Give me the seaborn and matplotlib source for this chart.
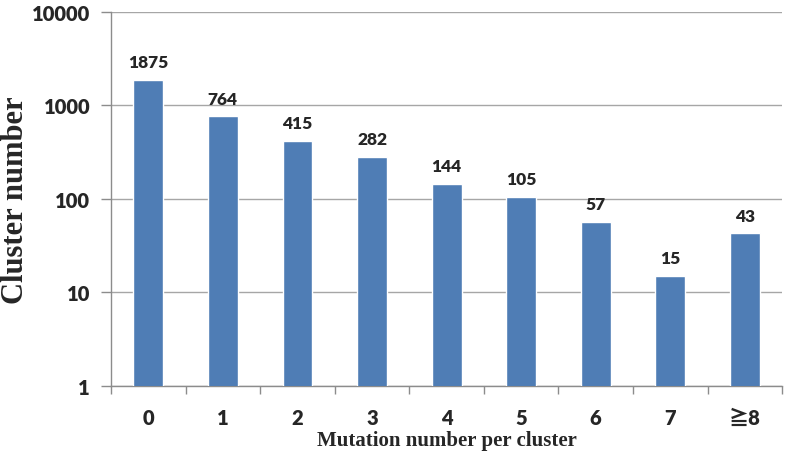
import matplotlib
matplotlib.use("Agg")
import matplotlib.pyplot as plt
import seaborn as sns
import pandas as pd
import numpy as np
from matplotlib.ticker import FixedLocator, NullFormatter

categories = ["0", "1", "2", "3", "4", "5", "6", "7", "≧8"]
counts = [1875, 764, 415, 282, 144, 105, 57, 15, 43]
ytick_vals = [1, 10, 100, 1000, 10000]
ytick_labels = ["1", "10", "100", "1000", "10000"]

sns.set_theme(style="white")
sans = ["Lato", "Noto Sans CJK JP", "DejaVu Sans"]
plt.rcParams["font.family"] = sans

df = pd.DataFrame({"cat": categories, "count": counts})

fig = plt.figure(figsize=(7.85, 4.64), dpi=100)
ax = fig.add_axes([0.1414, 0.166, 0.855, 0.806])

sns.barplot(data=df, x="cat", y="count", color="#4F7DB5", saturation=1,
            width=0.4, ax=ax, zorder=3)
ax.set_yscale("log")
ax.set_ylim(1, 10000)
ax.set_xlim(-0.5, len(categories) - 0.5)

ax.set_yticks(ytick_vals)
ax.set_yticklabels(ytick_labels, fontsize=14.5, fontweight="heavy", family=sans)
ax.yaxis.set_minor_locator(FixedLocator([]))
ax.yaxis.set_minor_formatter(NullFormatter())
ax.tick_params(axis="y", which="major", length=7, color="#8C8C8C", width=1,
               left=True, pad=8)
ax.grid(axis="y", color="#A6A6A6", linewidth=1, zorder=0)
ax.set_axisbelow(True)

ax.set_xticks(range(len(categories)))
ax.set_xticklabels(categories, fontsize=14.5, fontweight="heavy", family=sans)
ax.tick_params(axis="x", which="major", length=0, pad=16)
ax.xaxis.set_minor_locator(FixedLocator(np.arange(-0.5, len(categories), 1.0)))
ax.tick_params(axis="x", which="minor", length=6, color="#8C8C8C", width=1,
               bottom=True)

for sp in ["top", "right"]:
    ax.spines[sp].set_visible(False)
for sp in ["left", "bottom"]:
    ax.spines[sp].set_color("#8C8C8C")
    ax.spines[sp].set_linewidth(1)

for i, v in enumerate(counts):
    ax.annotate(str(v), (i, v), xytext=(0, 7), textcoords="offset points",
                ha="center", va="bottom", fontsize=12.5, fontweight="heavy",
                family=sans)

ax.set_ylabel("Cluster number", family="Liberation Serif", fontweight="bold",
              fontsize=22)
ax.yaxis.set_label_coords(-0.12, 0.5)
ax.set_xlabel("Mutation number per cluster", family="Liberation Serif",
              fontweight="bold", fontsize=15, labelpad=2)

fig.savefig("out.png", dpi=100)
